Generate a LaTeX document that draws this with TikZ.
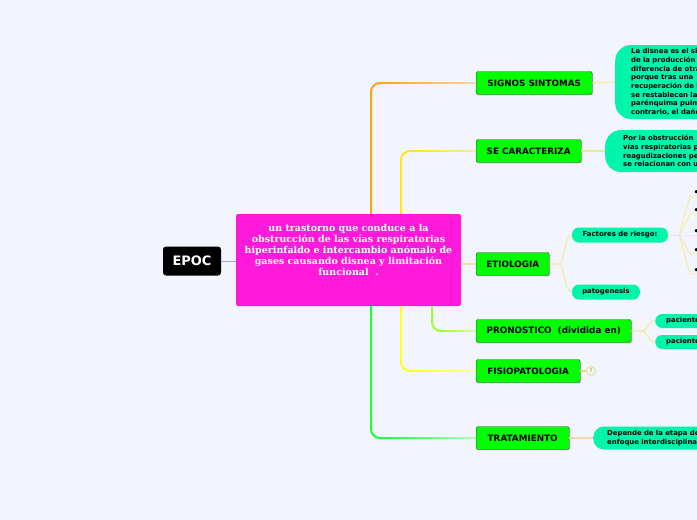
\documentclass[tikz,border=0pt]{standalone}
\usepackage{fontspec}
\setsansfont{DejaVu Sans}
\newfontfamily\coreserif{DejaVu Serif}
\usepackage{xcolor}
\usepackage{tikz}
\usetikzlibrary{calc, shadows}

\definecolor{pagebg}{HTML}{F2F5FE}
\definecolor{coremag}{HTML}{FF1ADB}
\definecolor{topicgreen}{HTML}{00FF00}
\definecolor{leafteal}{HTML}{00F5AA}
\definecolor{linkblue}{HTML}{8FA8F8}
\definecolor{linkorange}{HTML}{FFA41A}
\definecolor{linkyellow}{HTML}{FFE51A}
\definecolor{linklime}{HTML}{9CFF2E}
\definecolor{linkgold}{HTML}{FFFF1A}
\definecolor{linkgreen}{HTML}{1AFF3A}
\definecolor{linkpeach}{HTML}{F9D6A6}
\definecolor{linkpale}{HTML}{F5EC9E}

\begin{document}
\begin{tikzpicture}[x=1pt, y=-1pt,
  rootbox/.style={fill=black, text=white, rounded corners=3pt,
    minimum width=58pt, minimum height=29pt,
    font=\sffamily\bfseries\fontsize{13}{15}\selectfont},
  topic/.style={draw=black!75, fill=topicgreen, rounded corners=2pt,
    minimum height=23pt, inner xsep=0pt, anchor=west,
    font=\sffamily\bfseries\fontsize{8.8}{10}\selectfont,
    drop shadow={shadow xshift=0.8pt, shadow yshift=-0.8pt, opacity=0.35}},
  leaf/.style={fill=leafteal, anchor=west, align=left,
    font=\sffamily\bfseries\fontsize{6.9}{8.7}\selectfont},
  pill/.style={fill=leafteal, rounded corners=7pt, minimum height=15pt,
    inner ysep=0pt, font=\sffamily\bfseries\fontsize{6.9}{8}\selectfont},
  bullet/.style={anchor=south west, inner ysep=0pt, inner xsep=3.5pt,
    font=\sffamily\bfseries\fontsize{9}{10}\selectfont},
  link/.style={line width=2pt, rounded corners=9pt},
  sublink/.style={line width=1.2pt, linkpale},
]
  \useasboundingbox (0,0) rectangle (697,520);
  \clip (0,0) rectangle (697,520);
  \fill[pagebg] (0,0) rectangle (697,520);

  % Root and central idea
  \node[rootbox] (epoc) at (192,261) {EPOC};
  \node[fill=coremag, rounded corners=2pt, minimum width=225pt,
    minimum height=92pt] (core) at (348.5,260) {};
  \node[text=white, align=center,
    font=\coreserif\bfseries\fontsize{9.5}{11.2}\selectfont] (coretxt) at (348.5,250)
    {un trastorno que conduce a la\\
     obstrucción de las vías respiratorias\\
     hiperinfaldo e intercambio anómalo de\\
     gases causando disnea y limitación\\
     funcional\ \ .};
  \draw[line width=1pt, linkblue] (epoc.east) -- (core.west |- epoc.east);

  % Main topics
  \node[topic, minimum width=116pt] (signos) at (476,83)  {SIGNOS SINTOMAS};
  \node[topic, minimum width=105pt] (secar)  at (476,151) {SE CARACTERIZA};
  \node[topic, minimum width=73pt]  (etio)   at (476,264) {ETIOLOGIA};
  \node[topic, minimum width=155pt] (prono)  at (476,331) {PRONOSTICO\ \ (dividida en)};
  \node[topic, minimum width=104pt] (fisio)  at (476,371) {FISIOPATOLOGIA};
  \node[topic, minimum width=93pt]  (trat)   at (476,438) {TRATAMIENTO};

  % Links from the central idea
  \draw[link, linkorange] ([xshift=22.5pt]core.north) |- ($(signos.west)+(-95,0)$);
  \shade[left color=linkorange, right color=linkpeach]
    ($(signos.west)+(-95,-0.7)$) rectangle ($(signos.west)+(0,0.7)$);
  \draw[link, linkyellow] ([xshift=52.5pt]core.north) |- ($(secar.west)+(-65,0)$);
  \shade[left color=linkyellow, right color=linkpale]
    ($(secar.west)+(-65,-0.7)$) rectangle ($(secar.west)+(0,0.7)$);
  \draw[line width=1.4pt, linkpeach] (core.east |- etio.west) -- (etio.west);
  \draw[link, linklime] ([xshift=83.5pt]core.south) |- ($(prono.west)+(-34,0)$);
  \shade[left color=linklime, right color=linklime!35]
    ($(prono.west)+(-34,-0.7)$) rectangle ($(prono.west)+(0,0.7)$);
  \draw[link, linkgold] ([xshift=52.5pt]core.south) |- ($(fisio.west)+(-65,0)$);
  \shade[left color=linkgold, right color=linkgold!35]
    ($(fisio.west)+(-65,-0.7)$) rectangle ($(fisio.west)+(0,0.7)$);
  \draw[link, linkgreen] ([xshift=22.5pt]core.south) |- ($(trat.west)+(-95,0)$);
  \shade[left color=linkgreen, right color=linkgreen!35]
    ($(trat.west)+(-95,-0.7)$) rectangle ($(trat.west)+(0,0.7)$);

  % SIGNOS SINTOMAS
  \node[leaf, rounded corners=16pt, minimum height=74pt, inner xsep=16pt,
    text width=120pt] (disnea) at (615,82)
    {La disnea es el si\\de la producción\\diferencia de otra\\porque tras una\\
     recuperación de l\\se restablecen la\\parénquima pulm\\contrario, el daño};
  \draw[sublink] (signos.east) -- (disnea.west);

  % SE CARACTERIZA
  \node[leaf, rounded corners=16pt, minimum height=42pt, inner xsep=18pt,
    text width=120pt] (obstr) at (605,151)
    {Por la obstrucción\\vías respiratorias p\\reagudizaciones pe\\se relacionan con u};
  \draw[sublink, linkpale!80!linklime] (secar.east) -- (obstr.west);

  % ETIOLOGIA
  \node[pill, minimum width=96pt] (factores) at (620,235) {Factores de riesgo:};
  \node[pill, minimum width=68pt] (patog) at (606,292) {patogenesis};
  \draw[sublink] (etio.east) -- ++(9,0) coordinate (etiojoin)
    .. controls +(7,0) and +(-8,0) .. (factores.west);
  \draw[sublink] (etiojoin) .. controls +(7,0) and +(-8,0) .. (patog.west);

  % Factores de riesgo
  \coordinate (fan) at ($(factores.east)+(11,0)$);
  \draw[sublink, line width=0.9pt] (factores.east) -- (fan);
  \foreach \i/\yy in {1/196, 2/214, 3/235, 4/254, 5/274} {
    \node[bullet] (b\i) at (690,\yy) {•};
    \draw[sublink, line width=0.9pt] (fan) -- (b\i.south west) -- (b\i.south east);
  }

  % PRONOSTICO
  \node[leaf, rounded corners=7pt, minimum height=14pt, inner ysep=0pt,
    inner xsep=11pt, text width=60pt] (pac1) at (655,321) {paciente};
  \node[leaf, rounded corners=7pt, minimum height=14pt, inner ysep=0pt,
    inner xsep=11pt, text width=60pt] (pac2) at (655,342) {paciente};
  \draw[sublink] (prono.east) -- ++(9,0) coordinate (pronojoin)
    .. controls +(8,0) and +(-8,0) .. (pac1.west);
  \draw[sublink] (pronojoin) .. controls +(8,0) and +(-8,0) .. (pac2.west);

  % FISIOPATOLOGIA
  \node[circle, draw=linkgold!80!black!60, line width=0.8pt, inner sep=0pt,
    minimum size=9pt, text=linkgold!70!black,
    font=\sffamily\bfseries\fontsize{5}{6}\selectfont] (fq) at (591,371) {?};
  \draw[sublink, linkgold!80!black!60] (fisio.east) -- (fq.west);

  % TRATAMIENTO
  \node[leaf, rounded corners=11pt, minimum height=23pt, inner ysep=0pt,
    inner xsep=14pt, text width=120pt] (etapa) at (593,438)
    {Depende de la etapa de\\enfoque interdisciplina};
  \draw[sublink, linkpeach] (trat.east) -- (etapa.west);
\end{tikzpicture}
\end{document}
